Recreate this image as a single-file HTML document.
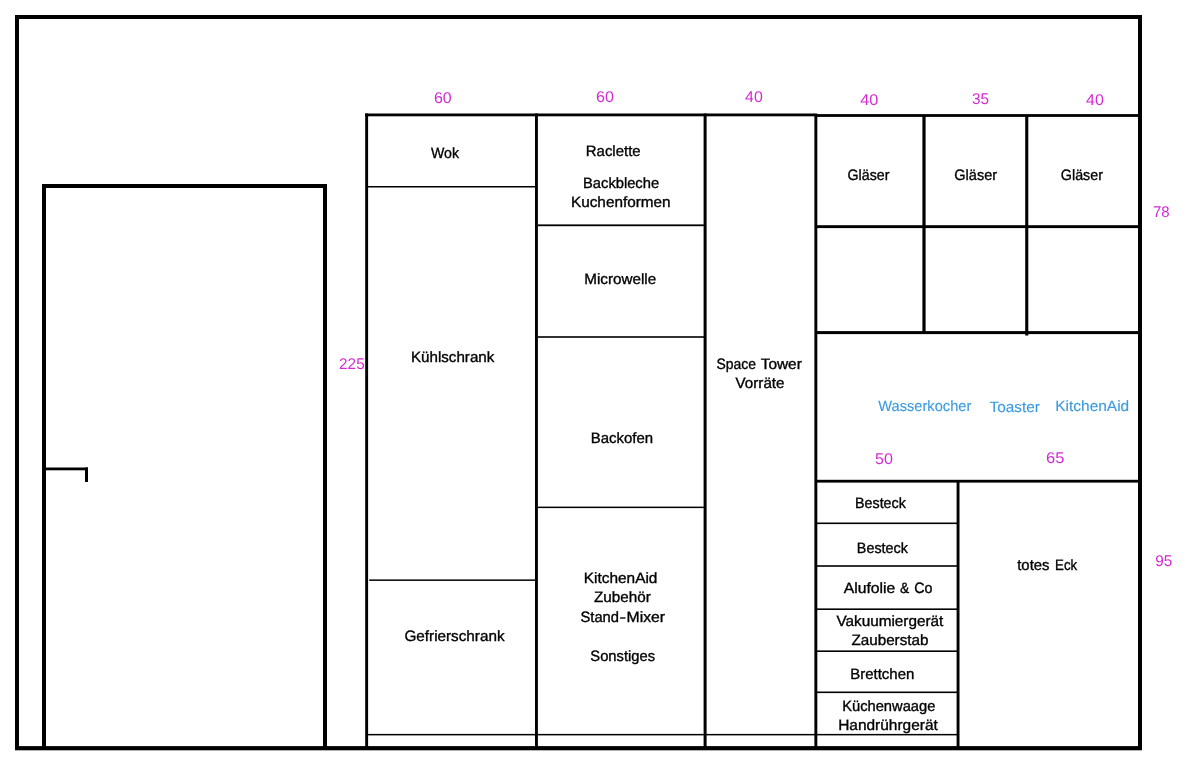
<!DOCTYPE html><html><head><meta charset="utf-8"><title>Küche</title><style>html,body{margin:0;padding:0;background:#fff;width:1200px;height:777px;overflow:hidden}svg{display:block}text{font-family:"Liberation Sans", sans-serif;text-rendering:geometricPrecision}</style></head><body>
<svg style="will-change:transform" width="1200" height="777" viewBox="0 0 1200 777">
<rect x="0" y="0" width="1200" height="777" fill="#fff"/>
<rect x="15.00" y="15.00" width="1127.00" height="4.00" fill="#000"/>
<rect x="15.00" y="15.00" width="4.00" height="735.00" fill="#000"/>
<rect x="1138.00" y="15.00" width="4.00" height="735.00" fill="#000"/>
<rect x="15.00" y="746.10" width="1127.00" height="4.20" fill="#000"/>
<rect x="42.00" y="184.00" width="285.00" height="4.00" fill="#000"/>
<rect x="42.00" y="184.00" width="4.00" height="566.00" fill="#000"/>
<rect x="323.00" y="184.00" width="4.00" height="566.00" fill="#000"/>
<rect x="46.00" y="467.50" width="42.00" height="2.80" fill="#000"/>
<rect x="85.00" y="467.50" width="3.00" height="14.50" fill="#000"/>
<rect x="365.00" y="113.50" width="450.00" height="2.80" fill="#000"/>
<rect x="815.00" y="114.10" width="327.00" height="2.80" fill="#000"/>
<rect x="365.20" y="113.50" width="2.90" height="636.50" fill="#000"/>
<rect x="535.00" y="113.50" width="2.90" height="636.50" fill="#000"/>
<rect x="703.60" y="113.50" width="3.00" height="636.50" fill="#000"/>
<rect x="814.40" y="113.50" width="2.90" height="636.50" fill="#000"/>
<rect x="368.00" y="186.00" width="167.00" height="1.50" fill="#000"/>
<rect x="369.20" y="579.40" width="165.80" height="1.50" fill="#000"/>
<rect x="538.00" y="224.40" width="166.00" height="1.80" fill="#000"/>
<rect x="538.00" y="336.20" width="166.00" height="1.60" fill="#000"/>
<rect x="538.00" y="506.60" width="166.00" height="1.50" fill="#000"/>
<rect x="368.00" y="733.90" width="589.00" height="1.50" fill="#000"/>
<rect x="817.00" y="225.20" width="321.00" height="2.90" fill="#000"/>
<rect x="817.00" y="331.10" width="321.00" height="3.00" fill="#000"/>
<rect x="922.40" y="116.00" width="3.20" height="216.00" fill="#000"/>
<rect x="1025.20" y="116.00" width="3.10" height="219.50" fill="#000"/>
<rect x="817.00" y="479.80" width="321.00" height="2.80" fill="#000"/>
<rect x="956.60" y="482.00" width="2.90" height="268.00" fill="#000"/>
<rect x="817.00" y="522.50" width="140.00" height="1.60" fill="#000"/>
<rect x="817.00" y="565.20" width="140.00" height="1.60" fill="#000"/>
<rect x="817.00" y="608.40" width="140.00" height="1.60" fill="#000"/>
<rect x="817.00" y="650.40" width="140.00" height="1.60" fill="#000"/>
<rect x="817.00" y="691.50" width="140.00" height="1.60" fill="#000"/>
<text x="0.00" y="157.50" font-size="15.00" fill="#000" stroke="#000" stroke-width="0.35" transform="translate(431.04 0) scale(0.9419 1)">Wok</text>
<text x="0.00" y="156.20" font-size="15.00" fill="#000" stroke="#000" stroke-width="0.35" transform="translate(585.80 0) scale(0.9961 1)">Raclette</text>
<text x="0.00" y="187.80" font-size="15.00" fill="#000" stroke="#000" stroke-width="0.35" transform="translate(583.02 0) scale(0.9810 1)">Backbleche</text>
<text x="0.00" y="207.00" font-size="15.00" fill="#000" stroke="#000" stroke-width="0.35" transform="translate(570.98 0) scale(1.0208 1)">Kuchenformen</text>
<text x="0.00" y="283.90" font-size="15.00" fill="#000" stroke="#000" stroke-width="0.35" transform="translate(584.19 0) scale(1.0157 1)">Microwelle</text>
<text x="0.00" y="443.10" font-size="15.00" fill="#000" stroke="#000" stroke-width="0.35" transform="translate(590.80 0) scale(0.9960 1)">Backofen</text>
<text x="0.00" y="361.80" font-size="15.00" fill="#000" stroke="#000" stroke-width="0.35" transform="translate(411.00 0) scale(1.0090 1)">Kühlschrank</text>
<text x="0.00" y="641.30" font-size="15.00" fill="#000" stroke="#000" stroke-width="0.35" transform="translate(404.46 0) scale(1.0174 1)">Gefrierschrank</text>
<text x="0.00" y="582.50" font-size="15.00" fill="#000" stroke="#000" stroke-width="0.35" transform="translate(583.78 0) scale(1.0270 1)">KitchenAid</text>
<text x="0.00" y="602.10" font-size="15.00" fill="#000" stroke="#000" stroke-width="0.35" transform="translate(594.02 0) scale(1.0162 1)">Zubehör</text>
<text x="0.00" y="621.80" font-size="15.00" fill="#000" stroke="#000" stroke-width="0.35" transform="translate(580.52 0) scale(0.9815 1)">Stand</text>
<text x="0.00" y="621.80" font-size="15.00" fill="#000" stroke="#000" stroke-width="0.35" transform="translate(619.44 0) scale(1.3034 1)">-</text>
<text x="0.00" y="621.80" font-size="15.00" fill="#000" stroke="#000" stroke-width="0.35" transform="translate(626.54 0) scale(1.0517 1)">Mixer</text>
<text x="0.00" y="661.10" font-size="15.00" fill="#000" stroke="#000" stroke-width="0.35" transform="translate(590.32 0) scale(0.9828 1)">Sonstiges</text>
<text x="0.00" y="368.80" font-size="15.00" fill="#000" stroke="#000" stroke-width="0.35" transform="translate(716.52 0) scale(0.9280 1)">Space</text>
<text x="0.00" y="368.80" font-size="15.00" fill="#000" stroke="#000" stroke-width="0.35" transform="translate(760.68 0) scale(1.0280 1)">Tower</text>
<text x="0.00" y="388.30" font-size="15.00" fill="#000" stroke="#000" stroke-width="0.35" transform="translate(735.59 0) scale(1.0105 1)">Vorräte</text>
<text x="0.00" y="180.30" font-size="15.00" fill="#000" stroke="#000" stroke-width="0.35" transform="translate(847.56 0) scale(0.9473 1)">Gläser</text>
<text x="0.00" y="180.30" font-size="15.00" fill="#000" stroke="#000" stroke-width="0.35" transform="translate(954.29 0) scale(0.9685 1)">Gläser</text>
<text x="0.00" y="180.10" font-size="15.00" fill="#000" stroke="#000" stroke-width="0.35" transform="translate(1060.83 0) scale(0.9545 1)">Gläser</text>
<text x="0.00" y="507.90" font-size="15.00" fill="#000" stroke="#000" stroke-width="0.35" transform="translate(855.02 0) scale(0.9528 1)">Besteck</text>
<text x="0.00" y="553.00" font-size="15.00" fill="#000" stroke="#000" stroke-width="0.35" transform="translate(856.85 0) scale(0.9572 1)">Besteck</text>
<text x="0.00" y="592.70" font-size="15.00" fill="#000" stroke="#000" stroke-width="0.35" transform="translate(843.70 0) scale(1.0482 1)">Alufolie</text>
<text x="0.00" y="592.70" font-size="15.00" fill="#000" stroke="#000" stroke-width="0.35" transform="translate(900.00 0) scale(0.9200 1)">&amp;</text>
<text x="0.00" y="592.70" font-size="15.00" fill="#000" stroke="#000" stroke-width="0.35" transform="translate(914.22 0) scale(0.9499 1)">Co</text>
<text x="0.00" y="626.10" font-size="15.00" fill="#000" stroke="#000" stroke-width="0.35" transform="translate(836.40 0) scale(1.0210 1)">Vakuumiergerät</text>
<text x="0.00" y="645.40" font-size="15.00" fill="#000" stroke="#000" stroke-width="0.35" transform="translate(851.40 0) scale(1.0161 1)">Zauberstab</text>
<text x="0.00" y="679.20" font-size="15.00" fill="#000" stroke="#000" stroke-width="0.35" transform="translate(850.20 0) scale(0.9984 1)">Brettchen</text>
<text x="0.00" y="711.00" font-size="15.00" fill="#000" stroke="#000" stroke-width="0.35" transform="translate(842.21 0) scale(0.9793 1)">Küchenwaage</text>
<text x="0.00" y="730.30" font-size="15.00" fill="#000" stroke="#000" stroke-width="0.35" transform="translate(838.17 0) scale(1.0302 1)">Handrührgerät</text>
<text x="0.00" y="570.10" font-size="15.00" fill="#000" stroke="#000" stroke-width="0.35" transform="translate(1017.20 0) scale(0.9939 1)">totes</text>
<text x="0.00" y="570.10" font-size="15.00" fill="#000" stroke="#000" stroke-width="0.35" transform="translate(1055.12 0) scale(0.8810 1)">Eck</text>
<text x="0.00" y="410.60" font-size="15.00" fill="#3a9ade" stroke="#3a9ade" stroke-width="0.10" transform="translate(878.30 0) scale(0.9759 1)">Wasserkocher</text>
<text x="0.00" y="411.90" font-size="15.00" fill="#3a9ade" stroke="#3a9ade" stroke-width="0.10" transform="translate(989.49 0) scale(1.0255 1)">Toaster</text>
<text x="0.00" y="411.00" font-size="15.00" fill="#3a9ade" stroke="#3a9ade" stroke-width="0.10" transform="translate(1055.30 0) scale(1.0301 1)">KitchenAid</text>
<text x="0.00" y="102.80" font-size="15.50" fill="#d42ad2" stroke="#d42ad2" stroke-width="0.00" transform="translate(433.94 0) scale(1.0295 1)">60</text>
<text x="0.00" y="101.60" font-size="15.50" fill="#d42ad2" stroke="#d42ad2" stroke-width="0.00" transform="translate(595.98 0) scale(1.0389 1)">60</text>
<text x="0.00" y="102.20" font-size="15.50" fill="#d42ad2" stroke="#d42ad2" stroke-width="0.00" transform="translate(745.07 0) scale(1.0262 1)">40</text>
<text x="0.00" y="104.70" font-size="15.50" fill="#d42ad2" stroke="#d42ad2" stroke-width="0.00" transform="translate(860.26 0) scale(1.0484 1)">40</text>
<text x="0.00" y="104.10" font-size="15.50" fill="#d42ad2" stroke="#d42ad2" stroke-width="0.00" transform="translate(972.03 0) scale(0.9852 1)">35</text>
<text x="0.00" y="105.10" font-size="15.50" fill="#d42ad2" stroke="#d42ad2" stroke-width="0.00" transform="translate(1086.07 0) scale(1.0262 1)">40</text>
<text x="0.00" y="217.00" font-size="15.50" fill="#d42ad2" stroke="#d42ad2" stroke-width="0.00" transform="translate(1153.02 0) scale(0.9625 1)">78</text>
<text x="0.00" y="368.80" font-size="15.50" fill="#d42ad2" stroke="#d42ad2" stroke-width="0.00" transform="translate(339.07 0) scale(0.9893 1)">225</text>
<text x="0.00" y="463.60" font-size="15.50" fill="#d42ad2" stroke="#d42ad2" stroke-width="0.00" transform="translate(874.98 0) scale(1.0375 1)">50</text>
<text x="0.00" y="463.30" font-size="15.50" fill="#d42ad2" stroke="#d42ad2" stroke-width="0.00" transform="translate(1046.11 0) scale(1.0657 1)">65</text>
<text x="0.00" y="565.60" font-size="15.50" fill="#d42ad2" stroke="#d42ad2" stroke-width="0.00" transform="translate(1155.21 0) scale(0.9926 1)">95</text>
</svg></body></html>
